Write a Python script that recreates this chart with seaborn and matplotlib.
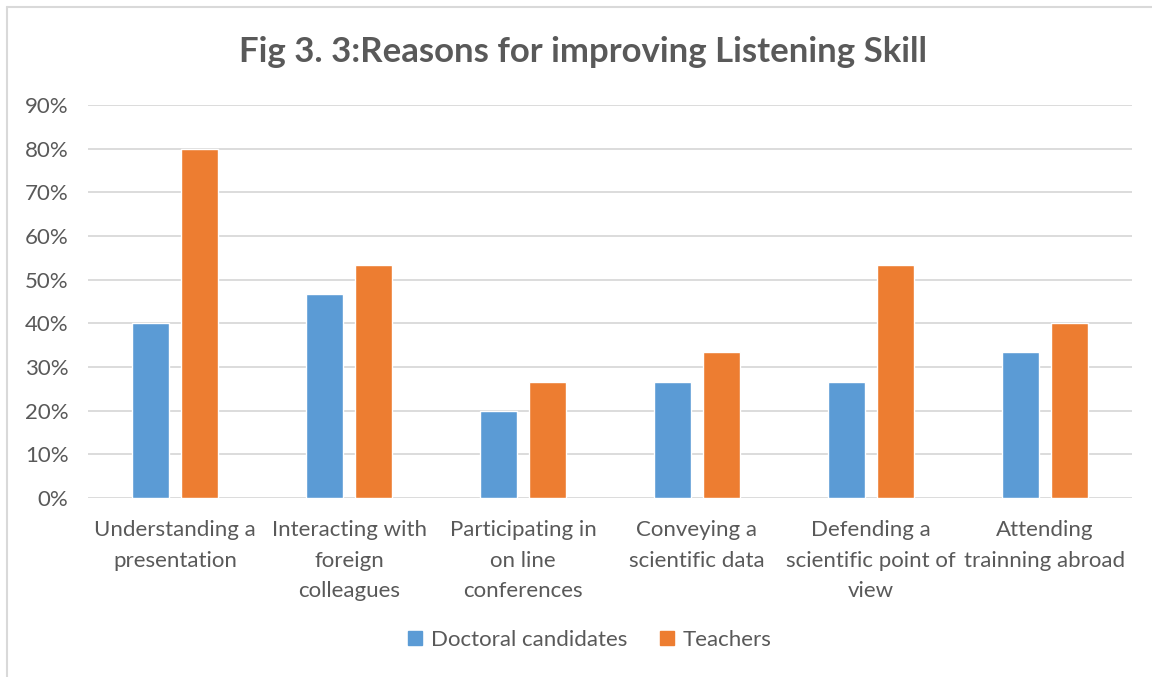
import matplotlib
matplotlib.use("Agg")
import matplotlib.pyplot as plt
import seaborn as sns
import pandas as pd
from matplotlib.ticker import PercentFormatter, MultipleLocator
from matplotlib.patches import Rectangle
from matplotlib.lines import Line2D

categories = ["Understanding a\npresentation",
              "Interacting with\nforeign\ncolleagues",
              "Participating in\non line\nconferences",
              "Conveying a\nscientific data",
              "Defending a\nscientific point of\nview",
              "Attending\ntrainning abroad"]
doctoral = [0.40, 0.4667, 0.20, 0.2667, 0.2667, 0.3333]
teachers = [0.80, 0.5333, 0.2667, 0.3333, 0.5333, 0.40]
series = ["Doctoral candidates", "Teachers"]
colors = ["#5B9BD5", "#ED7D31"]

df = pd.DataFrame({
    "cat": categories * 2,
    "val": doctoral + teachers,
    "series": [series[0]] * 6 + [series[1]] * 6,
})

sns.set_theme(style="white")
plt.rcParams["font.family"] = ["Lato", "DejaVu Sans"]
txt = "#595959"

fig = plt.figure(figsize=(11.52, 6.77), dpi=100)
ax = fig.add_axes([88 / 1152, 1 - 498 / 677, (1132 - 88) / 1152, (498 - 105) / 677])

sns.barplot(data=df, x="cat", y="val", hue="series", palette=colors,
            width=0.563, gap=0.225, ax=ax, legend=False, saturation=1)

ax.set_ylim(0, 0.9)
ax.set_xlim(-0.5, 5.5)
ax.yaxis.set_major_locator(MultipleLocator(0.1))
ax.yaxis.set_major_formatter(PercentFormatter(1.0, decimals=0))
ax.grid(axis="y", color="#D9D9D9", linewidth=1.3)
ax.set_axisbelow(True)
for s in ax.spines.values():
    s.set_visible(False)
ax.set_xlabel("")
ax.set_ylabel("")
ax.tick_params(axis="both", length=0, colors=txt, labelsize=16)
ax.tick_params(axis="y", pad=14)
ax.tick_params(axis="x", pad=16)
for lab in ax.get_xticklabels():
    lab.set_linespacing(1.65)

fig.text(583 / 1152, 1 - 52 / 677, "Fig 3. 3:Reasons for improving Listening Skill",
         ha="center", va="center", fontsize=25, fontweight="bold", color=txt)

handles = [Rectangle((0, 0), 1, 1, color=c) for c in colors]
fig.legend(handles, series, loc="center", bbox_to_anchor=(590 / 1152, 1 - 640 / 677),
           ncol=2, frameon=False, fontsize=16, labelcolor=txt, handlelength=0.6,
           handleheight=0.6, handletextpad=0.4, columnspacing=1.5)

# outer chart border (left and top visible)
fig.add_artist(Line2D([7 / 1152, 7 / 1152], [0, 1 - 7 / 677], color="#D9D9D9", lw=1.5,
                      transform=fig.transFigure))
fig.add_artist(Line2D([7 / 1152, 1], [1 - 7 / 677, 1 - 7 / 677], color="#D9D9D9", lw=1.5,
                      transform=fig.transFigure))

fig.savefig("out.png", dpi=100, facecolor="white")
